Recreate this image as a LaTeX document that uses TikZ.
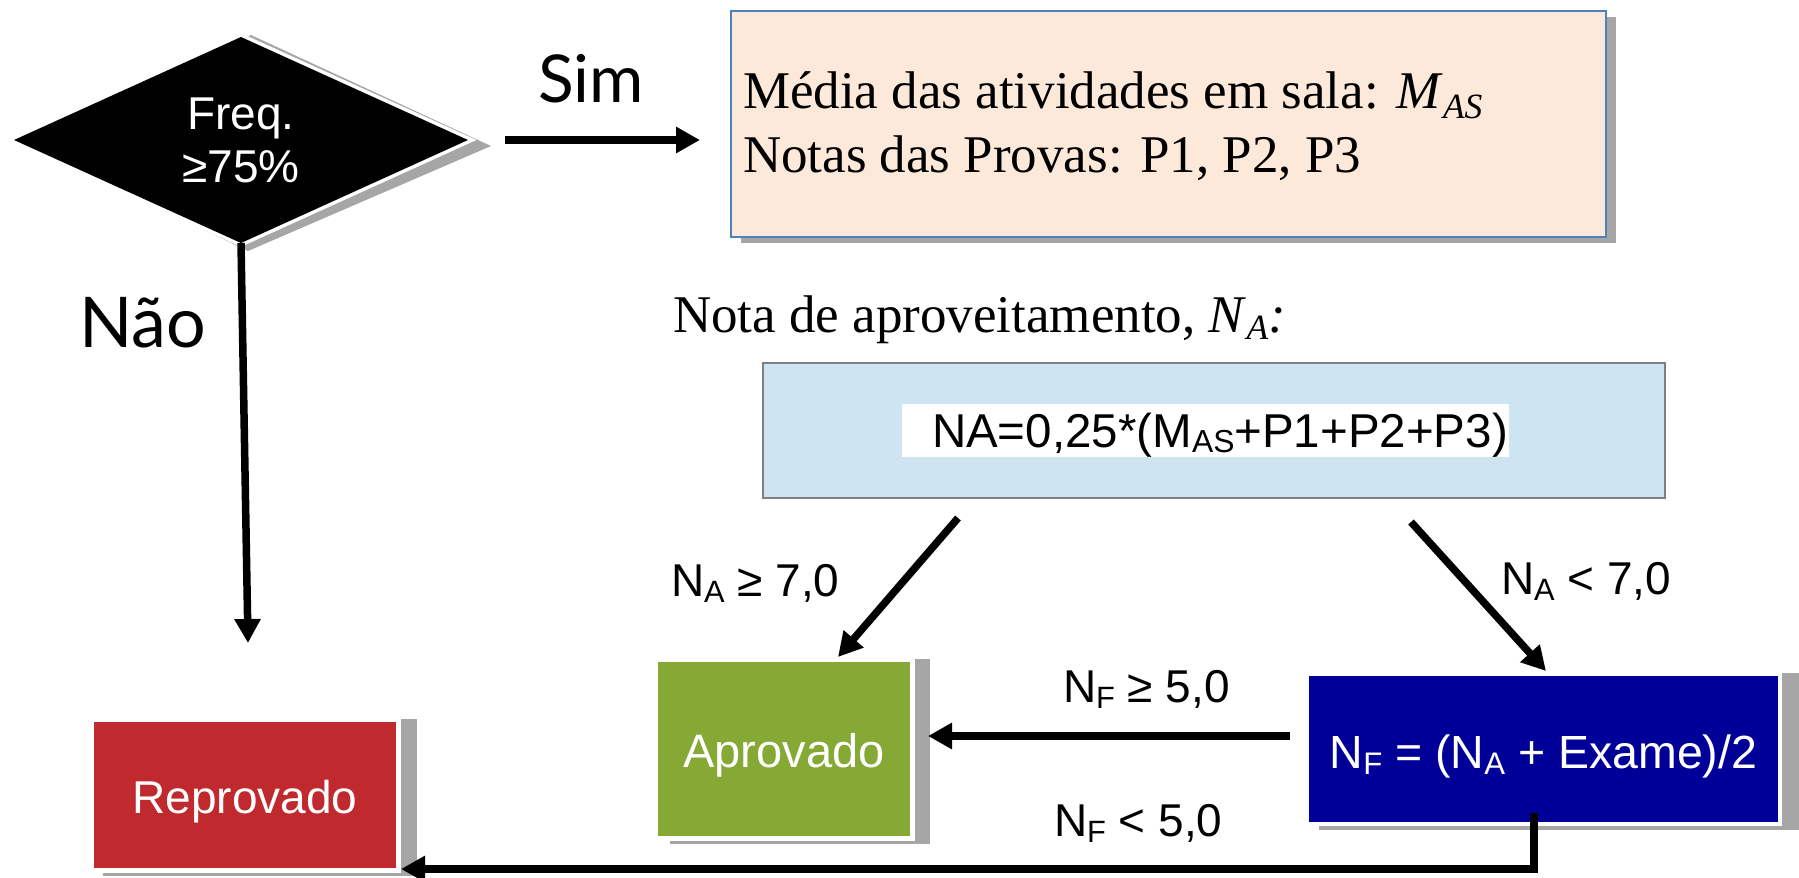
\documentclass[tikz,border=0pt]{standalone}
\usepackage{fontspec}
\setmainfont{Liberation Sans}
\newfontfamily\seriffont{Liberation Serif}
\newfontfamily\gillfont{Lato}
\usetikzlibrary{shapes.geometric,arrows.meta,calc,backgrounds}
\definecolor{repred}{RGB}{192,41,46}
\definecolor{aprgreen}{RGB}{134,168,52}
\definecolor{nfblue}{RGB}{0,0,153}
\definecolor{peach}{RGB}{253,233,217}
\definecolor{boxblue}{RGB}{79,129,189}
\definecolor{lightblue}{RGB}{207,228,243}
\definecolor{edgegray}{RGB}{128,128,128}
\definecolor{shgray}{RGB}{166,166,166}
\newcommand\lsub[2][0.14em]{\raisebox{-#1}{\scalebox{0.67}{#2}}}
\newcommand\fs[1]{\fontsize{#1}{#1}\selectfont}
\begin{document}
\begin{tikzpicture}[x=1pt,y=-1pt,
  base/.style={inner sep=0pt, outer sep=0pt},
  lbl/.style={base, anchor=base west, font=\fs{46}},
  result/.style={base, rectangle, text=white, font=\fs{46}},
  arr/.style={line width=7.5pt, -{Triangle[length=24pt,width=25pt]}},
  shadowbox/.style={fill=shgray},
]
\useasboundingbox (0,0) rectangle (1799,878);

% decision
\node[base, diamond, fill=black, minimum width=454pt, minimum height=206pt,
      text=white, align=center, font=\fontsize{46}{53}\selectfont] (dia) at (241,140) {Freq.\\≥75\%};

% branch labels
\node[base, anchor=base west, font=\gillfont\fs{66}] (sim) at (538,102) {Sim};
\node[base, anchor=base west, font=\gillfont\fs{70}] (nao) at (79,347) {Não};

% top box
\node[base, rectangle, fill=peach, draw=boxblue, line width=2.5pt,
      minimum width=875pt, minimum height=226pt] (top) at (1168.5,124) {};
\node[base, anchor=base west, font=\seriffont\fs{53}] (t1) at (743,108)
  {Média das atividades em sala: \textit{M}\lsub[0.19em]{\textit{AS}}};
\node[base, anchor=base west, font=\seriffont\fs{53}] (t2) at (743,172)
  {Notas das Provas: P1, P2, P3};

% nota de aproveitamento
\node[base, anchor=base west, font=\seriffont\fs{53}] (nota) at (673,332)
  {Nota de aproveitamento, \textit{N}\lsub[0.15em]{\textit{A}}\textit{:}};
\node[base, rectangle, fill=lightblue, draw=edgegray, line width=2.5pt,
      minimum width=902pt, minimum height=135pt] (na) at (1214,430.5) {};
\node[base, fill=white, text height=43pt, text depth=10pt, anchor=base west,
      font=\fs{47.5}] (naf) at (902,447)
  {\hspace*{30pt}NA=0,25*(M\lsub[0.12em]{AS}+P1+P2+P3)\hspace*{1pt}};

% result boxes
\node[result, fill=repred, minimum width=302pt, minimum height=146pt,
      text height=36pt, text depth=0pt] (rep) at (245,795) {Reprovado};
\node[result, fill=aprgreen, minimum width=252pt, minimum height=174pt,
      text height=36pt, text depth=0pt, font=\fs{47}] (apr) at (784,749) {Aprovado};
\node[result, fill=nfblue, minimum width=469pt, minimum height=146pt,
      text height=38pt, text depth=0pt, font=\fs{46.5}] (nf) at (1543.5,749)
  {N\lsub{F} = (N\lsub{A} + Exame)/2};

% condition labels
\node[lbl] (l1) at (671,596) {N\lsub{A} ≥ 7,0};
\node[lbl] (l2) at (1501,594) {N\lsub{A} < 7,0};
\node[lbl] (l3) at (1063,702) {N\lsub{F} ≥ 5,0};
\node[lbl] (l4) at (1054,836) {N\lsub{F} < 5,0};

% shadows and white rims
\begin{scope}[on background layer]
  \fill[white] (0,0) rectangle (1799,878);
  \fill[shgray] ($(dia.north)+(10,-2)$) -- ($(dia.east)+(23,6)$) -- ($(dia.south)+(7,8)$) -- ($(dia.west)+(16,6)$) -- cycle;
  \draw[white, line width=7pt, line join=miter] (dia.north) -- (dia.east) -- (dia.south) -- (dia.west) -- cycle;
  \fill[shgray] ($(top.north west)+(10,6)$) rectangle ($(top.south east)+(10,6)$);
  \fill[shgray] ($(rep.north west)+(9,-3)$) rectangle ($(rep.south east)+(21,8)$);
  \fill[white] ($(rep.north west)+(-5,-5)$) rectangle ($(rep.south east)+(5,5)$);
  \fill[shgray] ($(apr.north west)+(12,-3)$) rectangle ($(apr.south east)+(20,8)$);
  \fill[white] ($(apr.north west)+(-5,-5)$) rectangle ($(apr.south east)+(5,5)$);
  \fill[shgray] ($(nf.north west)+(10,-3)$) rectangle ($(nf.south east)+(21,8)$);
  \fill[white] ($(nf.north west)+(-4,-4)$) rectangle ($(nf.south east)+(4,4)$);
\end{scope}

% connectors
\draw[arr, shorten <=37pt, shorten >=31pt] (dia.east) -- (dia.east -| top.west);
\draw[arr] (dia.south) -- ($(rep.north)+(3,-79)$);
\draw[arr] ($(na.south west)+(195,20)$) -- ($(apr.north)+(54,-5)$);
\draw[arr] ($(na.south west)+(648,24)$) -- ($(nf.north)+(2.5,-5)$);
\draw[arr] ($(nf.west)+(-19,-13)$) -- ($(apr.east)+(18,-13)$);
\draw[arr, line join=miter] ($(nf.south)+(-9.5,-9)$) |- ($(rep.south east)+(5,1)$);
\end{tikzpicture}
\end{document}
